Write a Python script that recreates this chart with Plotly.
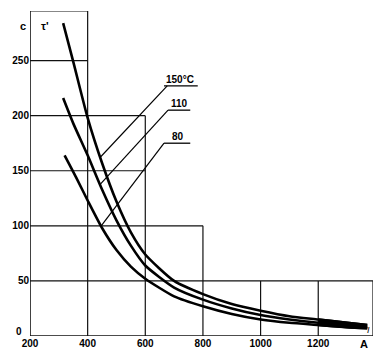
import plotly.graph_objects as go

# Data
x_150 = [315, 350, 400, 450, 500, 550, 600, 700, 800, 900, 1000, 1100, 1200, 1300, 1370]
y_150 = [284, 249, 198, 157, 122, 94, 74, 50, 38, 29, 23, 18, 15, 12, 10]
x_110 = [315, 350, 400, 450, 500, 550, 600, 700, 800, 900, 1000, 1100, 1200, 1300, 1370]
y_110 = [216, 193, 164, 133, 105, 82, 64, 44, 33, 25, 19, 15, 12, 10, 8]
x_80 = [320, 360, 400, 450, 500, 550, 600, 700, 800, 900, 1000, 1100, 1200, 1300, 1370]
y_80 = [164, 144, 123, 98, 78, 63, 52, 36, 27, 20, 15, 12, 10, 8, 7]

x_ticks = [200, 400, 600, 800, 1000, 1200]
y_ticks = [50, 100, 150, 200, 250]

X_MIN, X_MAX, Y_MAX = 200, 1390, 295
FONT = "Liberation Sans"

fig = go.Figure()
for xs, ys in [(x_150, y_150), (x_110, y_110), (x_80, y_80)]:
    fig.add_trace(go.Scatter(x=xs, y=ys, mode="lines",
                             line=dict(color="black", width=2.6, shape="spline", smoothing=0.6),
                             showlegend=False, hoverinfo="skip"))
# thick merged tail of the curves near their ends
fig.add_trace(go.Scatter(x=x_150[-3:], y=y_150[-3:], mode="lines",
                         line=dict(color="black", width=2.6, shape="spline"),
                         showlegend=False, hoverinfo="skip"))
fig.add_trace(go.Scatter(x=x_80[-3:], y=y_80[-3:], mode="lines", fill="tonexty", fillcolor="black",
                         line=dict(color="black", width=2.6, shape="spline"),
                         showlegend=False, hoverinfo="skip"))

# staircase grid
grid = [
    (X_MIN, 0, X_MIN, Y_MAX), (X_MIN, 0, X_MAX, 0),
    (X_MIN, Y_MAX, 400, Y_MAX), (400, 0, 400, Y_MAX),
    (X_MIN, 250, 400, 250),
    (X_MIN, 200, 600, 200), (X_MIN, 150, 600, 150), (600, 0, 600, 200),
    (X_MIN, 100, 800, 100), (800, 0, 800, 100),
    (X_MIN, 50, X_MAX, 50), (1000, 0, 1000, 50), (1200, 0, 1200, 50), (X_MAX, 0, X_MAX, 50),
]
for x0, y0, x1, y1 in grid:
    w = 1.6 if (x0 == X_MIN and x1 == X_MIN) or (y0 == 0 and y1 == 0) else 1.2
    fig.add_shape(type="line", x0=x0, y0=y0, x1=x1, y1=y1,
                  line=dict(color="#111", width=w), layer="below")

# labels with underlines and leaders
labels = [
    ("150°C", 721, 233, 227, 665, 782, (676, 227), (443, 162)),
    ("110", 717, 211, 205, 679, 756, (679, 205), (445, 138)),
    ("80", 712, 181, 175, 665, 756, (665, 175), (447, 100)),
]
for txt, tx, ty, uy, ux0, ux1, p0, p1 in labels:
    fig.add_annotation(x=tx, y=ty, text="<b>" + txt + "</b>", showarrow=False,
                       font=dict(family=FONT, size=10, color="black"))
    fig.add_shape(type="line", x0=ux0, y0=uy, x1=ux1, y1=uy, line=dict(color="black", width=1.3))
    fig.add_shape(type="line", x0=p0[0], y0=p0[1], x1=p1[0], y1=p1[1], line=dict(color="black", width=1.2))

fig.add_annotation(xref="paper", yref="paper", x=-0.035, y=0.978, text="<b>с</b>", showarrow=False,
                   font=dict(family=FONT, size=11, color="black"))
fig.add_annotation(xref="paper", yref="paper", x=0.025, y=0.978, text="<b>τ'</b>", showarrow=False,
                   font=dict(family=FONT, size=11, color="black"))
fig.add_annotation(xref="x", yref="y", x=1374, y=5, text="<i>I</i>", showarrow=False,
                   font=dict(family=FONT, size=9, color="black"))
fig.add_annotation(xref="paper", yref="paper", x=0.992, y=-0.048, text="<b>A</b>",
                   showarrow=False, font=dict(family=FONT, size=11, color="black"))
# zero label of the y axis sits a little above the baseline
fig.add_annotation(xref="paper", yref="y", x=0, xanchor="right", xshift=-6, y=4, text="<b>0</b>",
                   showarrow=False, font=dict(family=FONT, size=10, color="black"))

fig.update_layout(
    width=377, height=352,
    margin=dict(l=22, r=12, t=3, b=24),
    paper_bgcolor="white", plot_bgcolor="white",
    xaxis=dict(range=[X_MIN, X_MAX], tickvals=x_ticks, ticktext=["<b>%d</b>" % v for v in x_ticks],
               showgrid=False, zeroline=False, showline=False, ticks="", automargin=False,
               tickfont=dict(family=FONT, size=10, color="black")),
    yaxis=dict(range=[0, Y_MAX], tickvals=y_ticks, ticktext=["<b>%d</b>" % v for v in y_ticks],
               showgrid=False, zeroline=False, showline=False, ticks="", automargin=False,
               tickfont=dict(family=FONT, size=10, color="black")),
)
fig.write_html("out.html")
